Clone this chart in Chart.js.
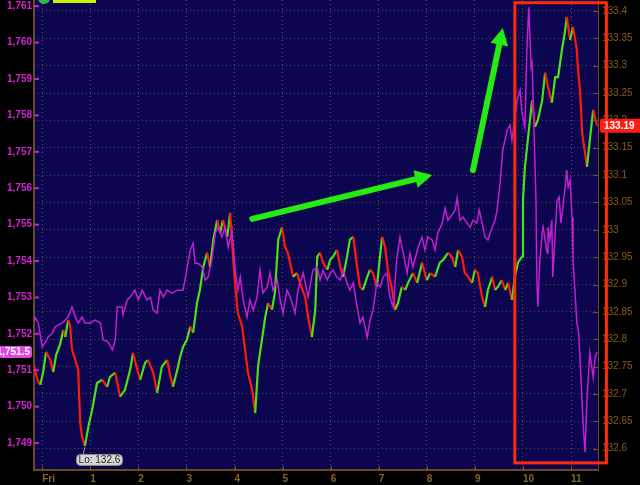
<!DOCTYPE html>
<html>
<head>
<meta charset="utf-8">
<script src="https://cdn.jsdelivr.net/npm/chart.js@4.4.1/dist/chart.umd.min.js"></script>
<style>
  html, body { margin: 0; padding: 0; background: #000; }
  canvas { display: block; }
</style>
</head>
<body>
<canvas id="chart" width="640" height="485"></canvas>
<script>
// x axis: hours, labelled Fri, 1 ... 11
const xTicks = [0, 1, 2, 3, 4, 5, 6, 7, 8, 9, 10, 11];
const xLabels = ['Fri', '1', '2', '3', '4', '5', '6', '7', '8', '9', '10', '11'];
const leftTicks = [1749, 1750, 1751, 1752, 1753, 1754, 1755, 1756, 1757, 1758, 1759, 1760, 1761];
const rightTicks = [132.6, 132.65, 132.7, 132.75, 132.8, 132.85, 132.9, 132.95, 133, 133.05,
  133.1, 133.15, 133.2, 133.25, 133.3, 133.35, 133.4];

// price (right axis), red/green line
const priceTimes = [-0.17, -0.10, -0.04, 0.02, 0.08, 0.17, 0.23, 0.29, 0.37, 0.44, 0.48, 0.54, 0.58, 0.62, 0.69, 0.75, 0.79, 0.83, 0.89, 0.96,
  1.04, 1.14, 1.25, 1.35, 1.41, 1.52, 1.62, 1.72, 1.83, 1.89, 1.98, 2.04, 2.14, 2.20, 2.31, 2.39, 2.49, 2.60, 2.66, 2.72,
  2.81, 2.87, 2.93, 3.01, 3.08, 3.14, 3.22, 3.28, 3.35, 3.43, 3.49, 3.56, 3.64, 3.70, 3.76, 3.85, 3.91, 3.95, 4.01, 4.07,
  4.16, 4.22, 4.28, 4.37, 4.43, 4.49, 4.57, 4.64, 4.70, 4.78, 4.84, 4.91, 4.99, 5.05, 5.11, 5.22, 5.30, 5.36, 5.47, 5.53,
  5.61, 5.68, 5.72, 5.78, 5.84, 5.93, 5.99, 6.05, 6.13, 6.20, 6.26, 6.34, 6.40, 6.47, 6.55, 6.61, 6.67, 6.76, 6.82, 6.88,
  6.96, 7.07, 7.13, 7.19, 7.28, 7.34, 7.40, 7.48, 7.55, 7.61, 7.71, 7.80, 7.90, 8.00, 8.07, 8.17, 8.27, 8.34, 8.44, 8.52,
  8.59, 8.65, 8.73, 8.79, 8.86, 8.94, 9.00, 9.06, 9.15, 9.21, 9.27, 9.36, 9.42, 9.48, 9.56, 9.63, 9.69, 9.77, 9.83, 9.90,
  9.98, 10.00, 10.04, 10.10, 10.19, 10.25, 10.31, 10.40, 10.46, 10.52, 10.60, 10.67, 10.73, 10.81, 10.87, 10.91, 10.98, 11.04, 11.12, 11.14,
  11.19, 11.23, 11.29, 11.33, 11.39, 11.46, 11.54];
const priceValues = [132.753, 132.726, 132.717, 132.739, 132.777, 132.762, 132.740, 132.771, 132.790, 132.817, 132.804, 132.835, 132.826, 132.781, 132.762, 132.744, 132.647, 132.622, 132.605, 132.640,
  132.671, 132.720, 132.726, 132.713, 132.731, 132.739, 132.695, 132.707, 132.744, 132.775, 132.744, 132.726, 132.757, 132.762, 132.739, 132.702, 132.750, 132.762, 132.735, 132.713,
  132.744, 132.768, 132.786, 132.799, 132.823, 132.812, 132.866, 132.890, 132.932, 132.958, 132.932, 132.982, 133.018, 132.994, 133.018, 132.987, 133.031, 132.976, 132.903, 132.848,
  132.823, 132.781, 132.739, 132.707, 132.665, 132.750, 132.799, 132.841, 132.866, 132.854, 132.885, 132.982, 133.005, 132.969, 132.958, 132.914, 132.921, 132.903, 132.877, 132.841,
  132.804, 132.854, 132.951, 132.958, 132.940, 132.927, 132.945, 132.951, 132.963, 132.932, 132.914, 132.951, 132.982, 132.987, 132.932, 132.896, 132.890, 132.914, 132.927, 132.921,
  132.896, 132.987, 132.969, 132.927, 132.890, 132.854, 132.866, 132.896, 132.890, 132.903, 132.921, 132.903, 132.940, 132.908, 132.921, 132.914, 132.940, 132.945, 132.958, 132.951,
  132.932, 132.963, 132.951, 132.921, 132.914, 132.903, 132.927, 132.921, 132.877, 132.859, 132.890, 132.914, 132.890, 132.896, 132.908, 132.890, 132.903, 132.872, 132.914, 132.941,
  132.951, 133.055, 133.115, 133.164, 133.237, 133.188, 133.201, 133.237, 133.287, 133.261, 133.232, 133.279, 133.279, 133.329, 133.360, 133.389, 133.347, 133.371, 133.329, 133.298,
  133.250, 133.177, 133.141, 133.115, 133.164, 133.219, 133.190];

// flow indicator (left axis), purple line
const flowTimes = [-0.17, -0.15, -0.08, 0.00, 0.06, 0.12, 0.21, 0.27, 0.33, 0.42, 0.48, 0.54, 0.62, 0.69, 0.75, 0.83, 0.89, 1.00, 1.10, 1.21,
  1.27, 1.37, 1.46, 1.52, 1.56, 1.66, 1.68, 1.77, 1.83, 1.93, 2.00, 2.08, 2.18, 2.25, 2.31, 2.39, 2.45, 2.52, 2.60, 2.70,
  2.81, 2.93, 2.97, 3.08, 3.14, 3.18, 3.24, 3.33, 3.39, 3.45, 3.53, 3.60, 3.66, 3.74, 3.80, 3.87, 3.95, 4.01, 4.07, 4.12,
  4.18, 4.26, 4.32, 4.39, 4.47, 4.53, 4.59, 4.68, 4.74, 4.80, 4.89, 4.95, 5.01, 5.09, 5.16, 5.26, 5.32, 5.43, 5.53, 5.63,
  5.72, 5.78, 5.84, 5.93, 5.99, 6.05, 6.13, 6.20, 6.26, 6.34, 6.40, 6.47, 6.55, 6.61, 6.67, 6.76, 6.82, 6.88, 6.96, 7.03,
  7.09, 7.17, 7.23, 7.30, 7.38, 7.44, 7.51, 7.59, 7.65, 7.71, 7.82, 7.90, 7.96, 8.02, 8.11, 8.17, 8.23, 8.32, 8.38, 8.44,
  8.52, 8.59, 8.63, 8.69, 8.75, 8.84, 8.90, 8.96, 9.04, 9.09, 9.15, 9.21, 9.27, 9.36, 9.42, 9.46, 9.52, 9.58, 9.67, 9.73,
  9.77, 9.88, 9.94, 9.98, 10.04, 10.08, 10.12, 10.17, 10.19, 10.23, 10.27, 10.29, 10.31, 10.35, 10.40, 10.42, 10.46, 10.50, 10.52, 10.56,
  10.60, 10.62, 10.67, 10.71, 10.75, 10.79, 10.83, 10.87, 10.91, 10.94, 10.98, 11.02, 11.04, 11.08, 11.12, 11.16, 11.21, 11.25, 11.29, 11.33,
  11.39, 11.46, 11.50, 11.54];
const flowValues = [1752.38, 1752.46, 1752.30, 1751.64, 1751.75, 1751.91, 1752.02, 1752.19, 1752.24, 1752.30, 1752.38, 1752.46, 1752.74, 1752.46, 1752.30, 1752.46, 1752.30, 1752.30, 1752.38, 1752.30,
  1751.83, 1751.78, 1751.56, 1751.83, 1752.74, 1752.74, 1752.52, 1752.93, 1753.01, 1753.20, 1752.93, 1753.20, 1752.93, 1753.01, 1752.65, 1752.57, 1753.20, 1753.01, 1753.20, 1753.12,
  1753.20, 1753.20, 1753.48, 1754.30, 1754.49, 1753.94, 1753.94, 1753.83, 1753.48, 1753.56, 1754.03, 1754.77, 1754.93, 1754.66, 1754.93, 1754.38, 1754.85, 1753.83, 1753.20, 1753.56,
  1752.93, 1752.46, 1752.93, 1752.65, 1753.01, 1753.75, 1753.12, 1753.29, 1753.67, 1753.20, 1753.48, 1752.93, 1752.57, 1753.20, 1753.01, 1752.57, 1753.20, 1753.67, 1753.01, 1753.75,
  1753.83, 1753.48, 1753.75, 1753.48, 1753.67, 1753.75, 1753.56, 1753.48, 1753.75, 1753.40, 1753.20, 1753.40, 1752.74, 1752.30, 1752.46, 1751.91, 1752.38, 1752.65, 1753.40, 1753.29,
  1753.56, 1753.67, 1753.01, 1752.74, 1754.11, 1754.66, 1754.22, 1753.67, 1754.22, 1753.83, 1754.38, 1754.66, 1754.30, 1754.66, 1754.58, 1754.30, 1754.77, 1755.04, 1755.45, 1755.12,
  1755.26, 1755.40, 1755.73, 1755.12, 1755.21, 1755.04, 1754.93, 1755.12, 1755.04, 1755.40, 1755.04, 1754.66, 1754.58, 1754.93, 1755.12, 1755.40, 1756.09, 1757.05, 1757.60, 1757.73,
  1757.32, 1758.42, 1758.69, 1758.06, 1757.68, 1759.79, 1760.97, 1759.33, 1759.44, 1757.51, 1755.67, 1753.40, 1752.74, 1754.03, 1754.77, 1754.93, 1754.58, 1754.22, 1754.93, 1754.58,
  1755.12, 1753.56, 1754.77, 1755.67, 1755.76, 1755.04, 1755.48, 1755.95, 1756.50, 1756.03, 1756.22, 1755.21, 1754.03, 1753.20, 1752.30, 1752.02, 1750.65, 1749.55, 1748.75, 1750.18,
  1751.47, 1750.81, 1751.36, 1751.50];

const GREEN = '#4be01a';
const RED = '#ff1a0a';
const BROWN = '#6b4a1c';
const GRID = '#5e4e3e';

function fmtLeft(v) {
  return v.toLocaleString('en-US', { maximumFractionDigits: 1 });
}

function arrow(ctx, x1, y1, x2, y2) {
  const ang = Math.atan2(y2 - y1, x2 - x1);
  const head = 17;
  const bx = x2 - Math.cos(ang) * head * 0.8;
  const by = y2 - Math.sin(ang) * head * 0.8;
  ctx.save();
  ctx.strokeStyle = '#25ea14';
  ctx.fillStyle = '#25ea14';
  ctx.lineWidth = 6;
  ctx.lineCap = 'round';
  ctx.beginPath();
  ctx.moveTo(x1, y1);
  ctx.lineTo(bx, by);
  ctx.stroke();
  ctx.beginPath();
  ctx.moveTo(x2, y2);
  ctx.lineTo(x2 - Math.cos(ang) * head + Math.cos(ang + Math.PI / 2) * 9, y2 - Math.sin(ang) * head + Math.sin(ang + Math.PI / 2) * 9);
  ctx.lineTo(x2 - Math.cos(ang) * head - Math.cos(ang + Math.PI / 2) * 9, y2 - Math.sin(ang) * head - Math.sin(ang + Math.PI / 2) * 9);
  ctx.closePath();
  ctx.fill();
  ctx.restore();
}

function roundBox(ctx, x, y, w, h, r, fill, stroke) {
  ctx.beginPath();
  ctx.roundRect(x, y, w, h, r);
  ctx.fillStyle = fill;
  ctx.fill();
  if (stroke) { ctx.strokeStyle = stroke; ctx.lineWidth = 1; ctx.stroke(); }
}

const extras = {
  id: 'extras',
  beforeDraw(chart) {
    const { ctx, chartArea: a } = chart;
    ctx.save();
    ctx.fillStyle = '#0c0650';
    ctx.fillRect(a.left, a.top, a.right - a.left, a.bottom - a.top);
    ctx.restore();
  },
  afterDraw(chart) {
    const { ctx, chartArea: a } = chart;
    const sx = chart.scales.x, sl = chart.scales.yL, sr = chart.scales.yR;
    ctx.save();

    // small tick marks drawn inside the plot
    ctx.lineWidth = 2;
    ctx.strokeStyle = '#d21ed2';
    leftTicks.forEach(v => {
      const y = sl.getPixelForValue(v);
      ctx.beginPath(); ctx.moveTo(a.left, y); ctx.lineTo(a.left + 5, y); ctx.stroke();
    });
    ctx.lineWidth = 1;
    ctx.strokeStyle = '#7a5420';
    rightTicks.forEach(v => {
      const y = Math.round(sr.getPixelForValue(v)) + 0.5;
      ctx.beginPath(); ctx.moveTo(a.right - 5, y); ctx.lineTo(a.right, y); ctx.stroke();
    });
    xTicks.forEach(v => {
      const x = Math.round(sx.getPixelForValue(v)) + 0.5;
      ctx.beginPath(); ctx.moveTo(x, a.bottom - 4); ctx.lineTo(x, a.bottom); ctx.stroke();
    });

    // red box around the last session
    ctx.strokeStyle = '#ff2a0e';
    ctx.lineWidth = 3;
    const bx1 = sx.getPixelForValue(9.83), bx2 = sx.getPixelForValue(11.735);
    const by1 = sr.getPixelForValue(133.415), by2 = sr.getPixelForValue(132.574);
    ctx.strokeRect(bx1, by1, bx2 - bx1, by2 - by1);

    // green arrows
    arrow(ctx, sx.getPixelForValue(4.37), sr.getPixelForValue(133.020), sx.getPixelForValue(8.11), sr.getPixelForValue(133.100));
    arrow(ctx, sx.getPixelForValue(8.96), sr.getPixelForValue(133.109), sx.getPixelForValue(9.58), sr.getPixelForValue(133.369));

    // low label
    let lo = 0;
    priceValues.forEach((v, i) => { if (v < priceValues[lo]) lo = i; });
    const lx = sx.getPixelForValue(priceTimes[lo]);
    const ly = sr.getPixelForValue(priceValues[lo]);
    ctx.strokeStyle = '#9a9a9a';
    ctx.lineWidth = 1;
    ctx.beginPath(); ctx.moveTo(lx, ly + 1); ctx.lineTo(lx - 2, ly + 9); ctx.stroke();
    roundBox(ctx, lx - 8.5, ly + 8.5, 46, 11, 4, '#d6d6d6', '#8c8c8c');
    ctx.fillStyle = '#2a2a2a';
    ctx.font = '10px "Liberation Sans", Arial, sans-serif';
    ctx.textBaseline = 'middle';
    ctx.textAlign = 'center';
    ctx.fillText('Lo: ' + priceValues[lo].toFixed(1), lx + 14.5, ly + 14.5);

    // last value flags
    const lastP = priceValues[priceValues.length - 1];
    const py = sr.getPixelForValue(lastP);
    roundBox(ctx, a.right + 2, py - 7, 42, 14, 2, '#ff1c12');
    ctx.fillStyle = '#ffffff';
    ctx.font = 'bold 10px "Liberation Sans", Arial, sans-serif';
    ctx.textAlign = 'left';
    ctx.fillText(lastP.toFixed(2), a.right + 6, py);

    const lastF = flowValues[flowValues.length - 1];
    const fy = sl.getPixelForValue(lastF);
    roundBox(ctx, -6, fy - 6, 38, 12, 3, '#e048e0');
    ctx.fillStyle = '#ffffff';
    ctx.textAlign = 'right';
    ctx.fillText(fmtLeft(lastF), 30, fy);

    // header widgets
    ctx.fillStyle = '#2fb84a';
    ctx.beginPath(); ctx.arc(44, -2, 6, 0, Math.PI * 2); ctx.fill();
    ctx.fillStyle = '#ccf000';
    ctx.fillRect(53, 0, 43, 3);

    ctx.restore();
  }
};

new Chart(document.getElementById('chart'), {
  type: 'line',
  data: {
    datasets: [
      {
        label: 'Flow',
        yAxisID: 'yL',
        data: flowTimes.map((t, i) => ({ x: t, y: flowValues[i] })),
        borderColor: '#c31fd0',
        borderWidth: 1.5,
        pointRadius: 0,
        tension: 0,
        order: 0
      },
      {
        label: 'Price',
        yAxisID: 'yR',
        data: priceTimes.map((t, i) => ({ x: t, y: priceValues[i] })),
        borderColor: RED,
        borderWidth: 2.2,
        pointRadius: 0,
        tension: 0,
        order: 1,
        segment: {
          borderColor: c => c.p1.parsed.y >= c.p0.parsed.y ? GREEN : RED
        }
      }
    ]
  },
  options: {
    responsive: false,
    devicePixelRatio: 1,
    animation: false,
    layout: { padding: 0 },
    plugins: { legend: { display: false }, tooltip: { enabled: false } },
    scales: {
      x: {
        type: 'linear',
        min: -0.17,
        max: 11.56,
        afterBuildTicks: s => { s.ticks = xTicks.map(v => ({ value: v })); },
        afterFit: s => { s.height = 15; s.paddingLeft = 0; s.paddingRight = 0; },
        ticks: {
          autoSkip: false,
          maxRotation: 0,
          align: 'start',
          padding: 3,
          color: '#8c6422',
          font: { family: '"Liberation Sans", Arial, sans-serif', size: 10, weight: 'bold' },
          callback: v => xLabels[xTicks.indexOf(v)]
        },
        grid: { color: GRID, lineWidth: 1, drawTicks: false },
        border: { color: BROWN, width: 2, dash: [1, 3] }
      },
      yL: {
        position: 'left',
        min: 1748.26,
        max: 1761.17,
        afterBuildTicks: s => { s.ticks = leftTicks.map(v => ({ value: v })); },
        afterFit: s => { s.width = 34; s.paddingTop = 0; s.paddingBottom = 0; },
        ticks: {
          autoSkip: false,
          padding: 2,
          color: '#d423d4',
          font: { family: '"Liberation Sans", Arial, sans-serif', size: 10, weight: 'bold' },
          callback: v => fmtLeft(v)
        },
        grid: { display: false, drawTicks: false },
        border: { color: BROWN, width: 2 }
      },
      yR: {
        position: 'right',
        min: 132.561,
        max: 133.420,
        afterBuildTicks: s => { s.ticks = rightTicks.map(v => ({ value: v })); },
        afterFit: s => { s.width = 42; s.paddingTop = 0; s.paddingBottom = 0; },
        ticks: {
          autoSkip: false,
          padding: 4,
          color: '#8a5c18',
          font: { family: '"Liberation Sans", Arial, sans-serif', size: 10 },
          callback: v => String(Number(v.toFixed(2)))
        },
        grid: { color: GRID, lineWidth: 1, drawTicks: false },
        border: { color: BROWN, width: 1, dash: [1, 3] }
      }
    }
  },
  plugins: [extras]
});
</script>
</body>
</html>
